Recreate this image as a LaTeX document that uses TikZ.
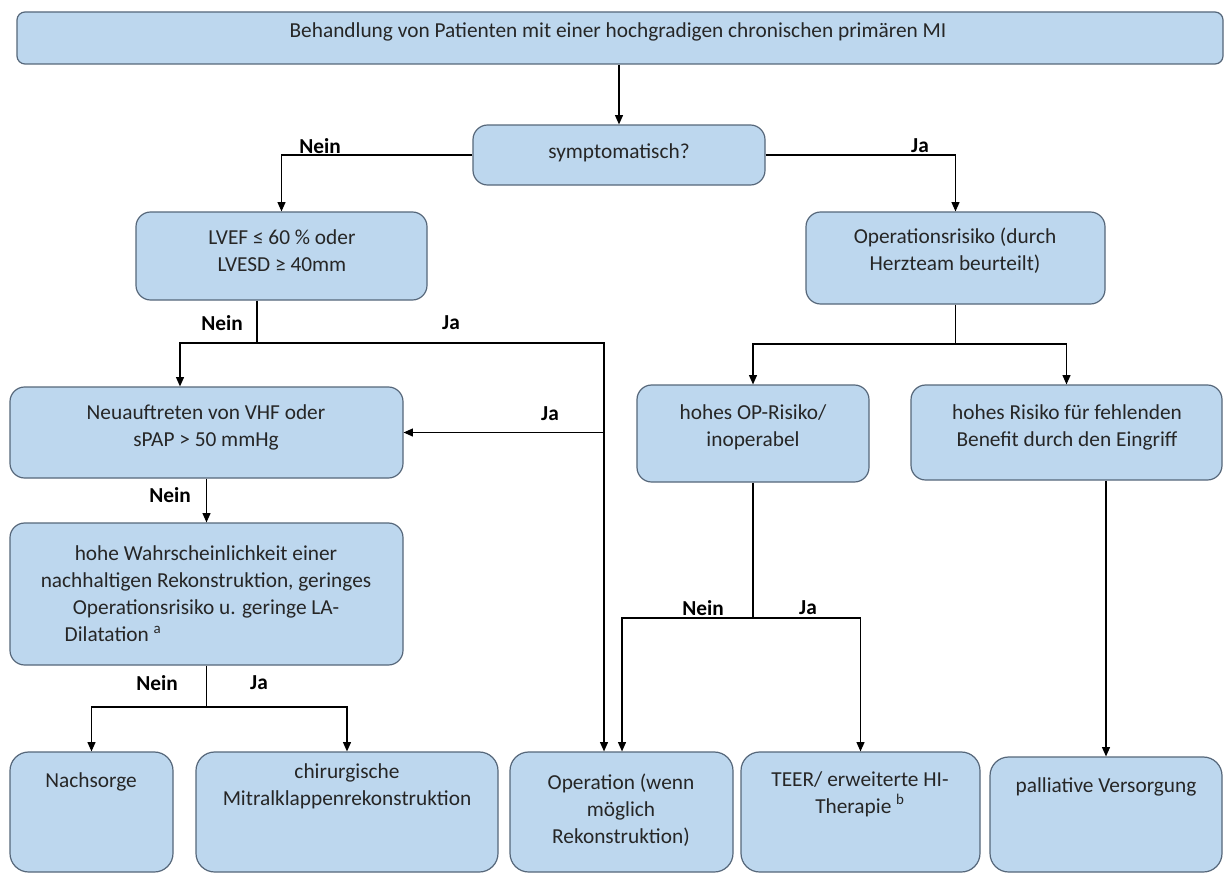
\documentclass[tikz,border=0pt]{standalone}
\usepackage{fontspec}
\setmainfont{Carlito}
\usetikzlibrary{arrows.meta,fit}
\definecolor{boxfill}{HTML}{BDD7EE}
\definecolor{boxline}{HTML}{56677A}
\newcommand{\flowtip}{Triangle[length=7pt,width=6pt]}

\begin{document}
\begin{tikzpicture}[x=0.75pt, y=-0.75pt, line width=0.9pt,
    blk/.style={draw=boxline, fill=boxfill, line width=0.9pt, rounded corners=11pt, inner sep=0pt},
    txt/.style={align=center, text=black!85, font=\fontsize{16}{20.25}\selectfont},
    yn/.style={text=black, font=\fontsize{16}{20.25}\selectfont\bfseries}]
  % frame is (0,0) to (1224,874), y going down
  \useasboundingbox[fill=white] (0,0) rectangle (1224,874);

  % boxes
  \node[blk, rounded corners=6pt, fit={(17,12) (1223,64)}] (behand) {};
  \node[blk, fit={(473,125) (765,185)}] (sympt) {};
  \node[blk, fit={(136,212) (427,300)}] (lvef) {};
  \node[blk, fit={(806,212) (1105,304)}] (oprisk) {};
  \node[blk, fit={(10,387) (403,478)}] (neu) {};
  \node[blk, fit={(637,385) (869,482)}] (inop) {};
  \node[blk, fit={(911,385) (1222,480)}] (hrisk) {};
  \node[blk, fit={(10,523) (403,665)}] (hohe) {};
  \node[blk, rounded corners=14pt, fit={(10,752) (173,872)}] (nach) {};
  \node[blk, rounded corners=14pt, fit={(196,752) (498,872)}] (chir) {};
  \node[blk, rounded corners=14pt, fit={(510,752) (733,872)}] (op) {};
  \node[blk, rounded corners=14pt, fit={(741,752) (980,872)}] (teer) {};
  \node[blk, rounded corners=14pt, fit={(990,757) (1222,872)}] (pall) {};

  % box texts
  \node[txt] (behand-t) at (618,32) {Behandlung von Patienten mit einer hochgradigen chronischen primären MI};
  \node[txt] (sympt-t) at (619,153) {symptomatisch?};
  \node[txt] (lvef-t) at (282,251) {LVEF ≤ 60 \% oder\\LVESD ≥ 40mm};
  \node[txt] (oprisk-t) at (955,251) {Operationsrisiko (durch\\Herzteam beurteilt)};
  \node[txt] (neu-t) at (206,427) {Neuauftreten von VHF oder\\sPAP > 50 mmHg};
  \node[txt] (inop-t) at (753,427) {hohes OP-Risiko/\\inoperabel};
  \node[txt] (hrisk-t) at (1067,427) {hohes Risiko für fehlenden\\Benefit durch den Eingriff};
  \node[txt] (hohe-t) at (206,594) {hohe Wahrscheinlichkeit einer\\nachhaltigen Rekonstruktion, geringes\\Operationsrisiko u. geringe LA-\\\makebox[203pt][l]{\hspace*{-4.5pt}Dilatation \textsuperscript{a}}};
  \node[txt] (nach-t) at (91,782) {Nachsorge};
  \node[txt] (chir-t) at (347,786) {chirurgische\\Mitralklappenrekonstruktion};
  \node[txt] (op-t) at (621,810) {Operation (wenn\\möglich\\Rekonstruktion)};
  \node[txt] (teer-t) at (860,794) {TEER/ erweiterte HI-\\Therapie \textsuperscript{b}};
  \node[txt] (pall-t) at (1106,787) {palliative Versorgung};

  % junctions
  \coordinate (lvj) at (257,343);
  \coordinate (neuin) at (180,0);
  \coordinate (opx) at (604,0);
  \coordinate (opy) at (622,0);
  \coordinate (hj) at (206.5,707);
  \coordinate (oj) at (955.5,344);
  \coordinate (ij) at (753,618);

  % connectors
  \draw[-\flowtip] (behand.south -| sympt.north) -- (sympt.north);
  \draw[-\flowtip] (sympt.west) -| (lvef.north);
  \draw[-\flowtip] (sympt.east) -| (oprisk.north);
  \draw (lvef.south -| lvj) -- (lvj);
  \draw[-\flowtip] (lvj) -| (neu.north -| neuin);
  \draw[-\flowtip] (lvj) -| (op.north -| opx);
  \draw[-\flowtip] (neu.east -| opx) -- (neu.east);
  \draw[-\flowtip] (neu.south) -- (hohe.north);
  \draw (hohe.south) -- (hj);
  \draw[-\flowtip] (hj) -| (nach.north);
  \draw[-\flowtip] (hj) -| (chir.north);
  \draw (oprisk.south) -- (oj);
  \draw[-\flowtip] (oj) -| (inop.north);
  \draw[-\flowtip] (oj) -| (hrisk.north);
  \draw (inop.south) -- (ij);
  \draw[-\flowtip] (ij) -| (op.north -| opy);
  \draw[-\flowtip] (ij) -| (teer.north);
  \draw[-\flowtip] (hrisk.south -| pall.north) -- (pall.north);

  % yes / no labels
  \node[yn] (n1) at (320,146) {Nein};
  \node[yn] (j1) at (920,146) {Ja};
  \node[yn] (n2) at (222,323) {Nein};
  \node[yn] (j2) at (451,323) {Ja};
  \node[yn] (j3) at (550,414) {Ja};
  \node[yn] (n3) at (170,495) {Nein};
  \node[yn] (n4) at (157,683) {Nein};
  \node[yn] (j4) at (259,683) {Ja};
  \node[yn] (n5) at (703,608) {Nein};
  \node[yn] (j5) at (808,608) {Ja};
\end{tikzpicture}
\end{document}
